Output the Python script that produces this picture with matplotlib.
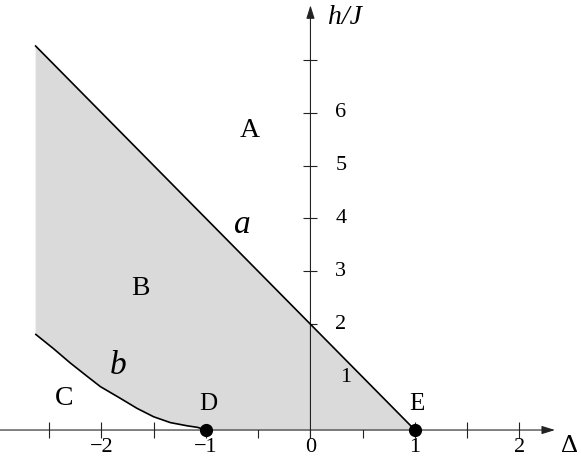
import numpy as np
import matplotlib.pyplot as plt
from matplotlib.ticker import FixedLocator, FixedFormatter

plt.rcParams['font.family'] = ['Liberation Serif', 'DejaVu Serif']

# line a: straight boundary between A and B
a_delta = [-2.63, 1.0]
a_h = [7.26, 0.0]
# curve b: boundary between B and C
b_delta = [-2.63, -2.46, -2.30, -2.14, -2.01, -1.82, -1.66, -1.50, -1.34, -1.18, -1.08, -1.0]
b_h = [1.81, 1.54, 1.27, 1.02, 0.82, 0.60, 0.41, 0.25, 0.14, 0.08, 0.05, 0.0]
# special points
pts_delta = [-1.0, 1.0]
pts_h = [0.0, 0.0]
pts_names = ['D', 'E']

x_major = [-2, -1, 0, 1, 2]
x_labels = ['\u22122', '\u22121', '0', '1', '2']
x_minor = [-2.5, -1.5, -0.5, 0.5, 1.5]
y_ticks = [1, 2, 3, 4, 5, 6, 7]
y_labels = ['1', '2', '3', '4', '5', '6']

fig = plt.figure(figsize=(5.81, 4.57), dpi=100)
ax = fig.add_axes([0, 0, 1, 1])
ax.set_xlim(-2.971, 2.589)
ax.set_ylim(-0.51, 8.13)

# shaded region B (drawn over the tick marks, like the original)
poly_x = a_delta + [pts_delta[0]] + b_delta[::-1]
poly_y = a_h + [pts_h[0]] + b_h[::-1]
ax.fill(poly_x, poly_y, color='#dadada', lw=0, zorder=2.6)

ax.plot(a_delta, a_h, color='black', lw=1.2, zorder=3)
ax.plot(b_delta, b_h, color='black', lw=1.2, zorder=3, solid_capstyle='round',
        solid_joinstyle='round')

# axes with arrows
for s in ['top', 'right']:
    ax.spines[s].set_visible(False)
ax.spines['left'].set_position(('data', 0))
ax.spines['bottom'].set_position(('data', 0))
ax.spines['left'].set_visible(False)
ax.spines['bottom'].set_visible(False)
arr = dict(arrowstyle='-|>,head_length=0.8,head_width=0.25', color='#222222',
           lw=0.8, mutation_scale=10, shrinkA=0, shrinkB=0)
ax.annotate('', xy=(2.34, 0), xytext=(-2.971, 0), arrowprops=arr, zorder=2.7)
ax.annotate('', xy=(0, 8.03), xytext=(0, -0.15), arrowprops=arr, zorder=2.7)

ax.xaxis.set_major_locator(FixedLocator(x_major))
ax.xaxis.set_major_formatter(FixedFormatter(x_labels))
ax.xaxis.set_minor_locator(FixedLocator(x_minor))
ax.tick_params(axis='x', which='both', direction='inout', length=11.5, width=0.8,
               color='#222222', labelsize=16, pad=0)
ax.yaxis.set_major_locator(FixedLocator(y_ticks))
ax.tick_params(axis='y', which='both', direction='inout', length=10, width=0.8,
               color='#222222', labelleft=False)

for v, lab in zip(y_ticks, y_labels):
    ax.text(0.29 if v > 1 else 0.34, v, lab, fontsize=16, ha='center', va='center', zorder=4)

ax.plot(pts_delta, pts_h, 'o', color='black', ms=8.5, zorder=4, clip_on=False)
for d, n in zip(pts_delta, pts_names):
    ax.text(d + 0.02, 0.5, n, fontsize=18, ha='center', va='center')

ax.text(-0.58, 5.67, 'A', fontsize=20, ha='center', va='center')
ax.text(-1.63, 2.68, 'B', fontsize=20, ha='center', va='center')
ax.text(-2.36, 0.60, 'C', fontsize=20, ha='center', va='center')
ax.text(-0.655, 3.89, 'a', fontsize=24, style='italic', ha='center', va='center', zorder=4)
ax.text(-1.84, 1.21, 'b', fontsize=24, style='italic', ha='center', va='center', zorder=4)
ax.text(2.48, -0.30, '\u0394', fontsize=19, ha='center', va='center')
ax.text(0.33, 7.79, 'h/J', fontsize=20, style='italic', ha='center', va='center')

fig.savefig('out.png', dpi=100)
